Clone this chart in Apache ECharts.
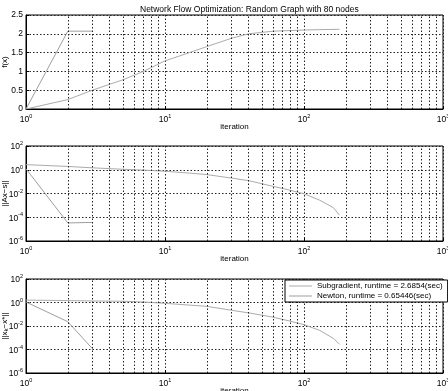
<!DOCTYPE html>
<html>
<head>
<meta charset="utf-8">
<script src="https://cdn.jsdelivr.net/npm/echarts@6/dist/echarts.min.js"></script>
<style>
html, body { margin: 0; padding: 0; background: #fff; }
#main { width: 448px; height: 391px; }
</style>
</head>
<body>
<div id="main"></div>
<script>
// iterations (log x)
var iterSubF = [1, 2, 3, 5, 7, 10, 15, 20, 30, 40, 60, 100, 130, 180];
var fSub = [0, 0.25, 0.5, 0.78, 1.0, 1.28, 1.5, 1.66, 1.88, 2.0, 2.07, 2.1, 2.11, 2.12];
var iterNewton = [1, 2, 3];
var fNewton = [0, 2.07, 2.07];

var iterSubR = [1, 2, 3, 5, 7, 10, 15, 20, 30, 40, 57, 73, 100, 130, 163, 180];
var resSub = [2.7, 1.9, 1.45, 1.1, 0.93, 0.75, 0.52, 0.39, 0.2, 0.12, 0.046, 0.024, 0.0095, 0.0027, 0.00063, 0.00015];
var resNewton = [1.2, 3.3e-5, 3.7e-5];

var errSub = [1.6, 1.45, 1.35, 1.27, 1.1, 0.85, 0.6, 0.47, 0.22, 0.13, 0.063, 0.033, 0.013, 0.0042, 0.00087, 0.00028];
var errNewton = [1.1, 0.023, 0.00012];

var minorGrid = [2, 3, 4, 5, 6, 7, 8, 9, 20, 30, 40, 50, 60, 70, 80, 90, 200, 300, 400, 500, 600, 700, 800, 900];
var nameSub = 'Subgradient, runtime = 2.6854(sec)';
var nameNewton = 'Newton, runtime = 0.65446(sec)';

var font = 'Liberation Sans';
var colSub = '#ababab';
var colNewton = '#9e9e9e';

var chartDom = document.getElementById('main');
var myChart = echarts.init(chartDom);

function pairs(xs, ys) {
	return xs.map(function(x, i) { return [x, ys[i]]; });
}

function pow10(v) {
	var e = Math.round(Math.log(v) / Math.LN10);
	return '{b|10}{s|' + e + '}';
}

var richPow = {
	b: { fontSize: 8.5, fontFamily: font, color: '#000', verticalAlign: 'bottom' },
	s: { fontSize: 5.5, fontFamily: font, color: '#000', verticalAlign: 'bottom', padding: [0, 0, 5, 0] }
};

var dotted = { color: '#222', type: [1.5, 2], width: 1 };

var grids = [
	{ left: 26, right: 5, top: 15, height: 94 },
	{ left: 26, right: 5, top: 146, height: 95 },
	{ left: 26, right: 5, top: 279, height: 94 }
];

var xAxes = grids.map(function(g, i) {
	return {
		type: 'log', logBase: 10, gridIndex: i, min: 1, max: 1000,
		name: 'iteration', nameLocation: 'middle', nameGap: 14, nameMoveOverlap: false,
		nameTextStyle: { fontSize: 8, fontFamily: font, color: '#000' },
		axisLine: { lineStyle: { color: '#000' } },
		axisTick: { inside: true, length: 3, lineStyle: { color: '#000' } },
		axisLabel: { formatter: pow10, rich: richPow, margin: 4 },
		splitLine: { show: true, lineStyle: dotted }
	};
});

var yAxes = [
	{
		type: 'value', gridIndex: 0, min: 0, max: 2.5, interval: 0.5,
		name: 'f(x)', nameLocation: 'middle', nameGap: 17, nameMoveOverlap: false,
		nameTextStyle: { fontSize: 8, fontFamily: font, color: '#000' },
		axisLine: { show: true, lineStyle: { color: '#000' } },
		axisTick: { show: true, inside: true, length: 3, lineStyle: { color: '#000' } },
		axisLabel: { fontSize: 8.5, fontFamily: font, color: '#000', margin: 3 },
		splitLine: { show: true, lineStyle: dotted }
	},
	{
		type: 'log', logBase: 10, gridIndex: 1, min: 1e-6, max: 1e2, interval: 2,
		name: '||Ax\u2212s||', nameLocation: 'middle', nameGap: 17, nameMoveOverlap: false,
		nameTextStyle: { fontSize: 8, fontFamily: font, color: '#000' },
		axisLine: { show: true, lineStyle: { color: '#000' } },
		axisTick: { show: true, inside: true, length: 3, lineStyle: { color: '#000' } },
		axisLabel: { formatter: pow10, rich: richPow, margin: 3 },
		splitLine: { show: true, lineStyle: dotted }
	},
	{
		type: 'log', logBase: 10, gridIndex: 2, min: 1e-6, max: 1e2, interval: 2,
		name: '{n|||x}{k|k}{n|\u2212x*||}', nameLocation: 'middle', nameGap: 17, nameMoveOverlap: false,
		nameTextStyle: {
			fontSize: 8, fontFamily: font, color: '#000',
			rich: {
				n: { fontSize: 8, fontFamily: font, color: '#000' },
				k: { fontSize: 6, fontFamily: font, color: '#000', padding: [3, 0, 0, 0] }
			}
		},
		axisLine: { show: true, lineStyle: { color: '#000' } },
		axisTick: { show: true, inside: true, length: 3, lineStyle: { color: '#000' } },
		axisLabel: { formatter: pow10, rich: richPow, margin: 3 },
		splitLine: { show: true, lineStyle: dotted }
	}
];

function minorLines() {
	return {
		silent: true, symbol: ['none', 'none'], animation: false,
		label: { show: false },
		lineStyle: dotted,
		data: minorGrid.map(function(v) { return { xAxis: v }; })
	};
}

function line(name, idx, data, color, withGrid) {
	var s = {
		name: name, type: 'line', xAxisIndex: idx, yAxisIndex: idx,
		data: data, showSymbol: false, symbol: 'none',
		lineStyle: { color: color, width: 1 }, itemStyle: { color: color },
		animation: false, z: 3
	};
	if (withGrid) s.markLine = minorLines();
	return s;
}

var option = {
	backgroundColor: '#fff',
	title: {
		text: 'Network Flow Optimization: Random Graph with 80 nodes',
		left: 135, top: 0,
		textStyle: { fontSize: 8.5, fontWeight: 'normal', fontFamily: font, color: '#000' }
	},
	legend: {
		data: [nameSub, nameNewton],
		orient: 'vertical', left: 285, top: 280, z: 20,
		icon: 'rect', itemWidth: 23, itemHeight: 1, itemGap: 2,
		borderColor: '#000', borderWidth: 1, padding: [2, 5, 2, 4],
		backgroundColor: '#fff',
		textStyle: { fontSize: 8, fontFamily: font, color: '#000' }
	},
	grid: grids.map(function(g) {
		return {
			left: g.left, right: g.right, top: g.top, height: g.height,
			containLabel: false, outerBoundsMode: 'none',
			show: true, borderColor: '#000', borderWidth: 1, backgroundColor: '#fff'
		};
	}),
	xAxis: xAxes,
	yAxis: yAxes,
	series: [
		line(nameSub, 0, pairs(iterSubF, fSub), colSub, true),
		line(nameNewton, 0, pairs(iterNewton, fNewton), colNewton, false),
		line(nameSub, 1, pairs(iterSubR, resSub), colSub, true),
		line(nameNewton, 1, pairs(iterNewton, resNewton), colNewton, false),
		line(nameSub, 2, pairs(iterSubR, errSub), colSub, true),
		line(nameNewton, 2, pairs(iterNewton, errNewton), colNewton, false)
	]
};

option && myChart.setOption(option);
</script>
</body>
</html>
